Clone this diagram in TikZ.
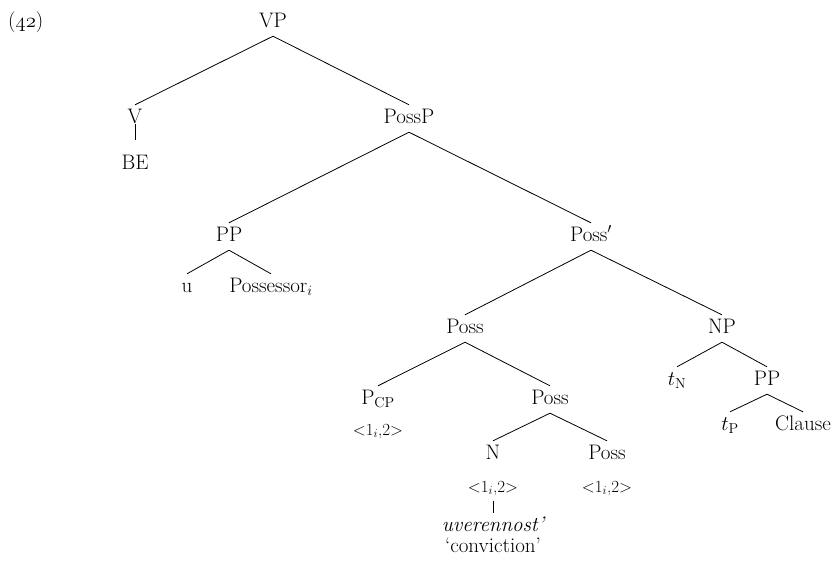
\documentclass[tikz,border=0pt]{standalone}
\begin{document}
\begin{tikzpicture}[x=1pt,y=-1pt,
  lab/.style={anchor=base, inner xsep=2pt, inner ysep=4pt,
    text height=14pt, text depth=5pt, font=\fontsize{21}{25}\selectfont},
  feat/.style={lab, font=\fontsize{17}{20}\selectfont},
  branch/.style={line width=0.8pt}]
\useasboundingbox (0,0) rectangle (837,563);

% example number
\node[lab, anchor=base west, inner xsep=0pt] (num) at (8,27)
  {({\usefont{OML}{cmm}{m}{it}42})};

% tree labels (placed on their baselines)
\node[lab] (VP)     at (273,27)  {VP};
\node[lab] (V)      at (135,123) {V};
\node[lab] (BE)     at (135,169) {BE};
\node[lab] (PossP)  at (409,123) {PossP};
\node[lab] (PP)     at (229,241) {PP};
\node[lab] (u)      at (187,292) {u};
\node[lab] (Psr)    at (271,292) {Possessor$_i$};
\node[lab] (Possb)  at (591,241) {Poss$'$};
\node[lab] (Poss)   at (465,333) {Poss};
\node[lab] (NP)     at (722,333) {NP};
\node[lab] (PCP)    at (378,404) {P$_{\mathrm{CP}}$};
\node[feat] (PCPf)  at (378,435) {<1$_i$,2>};
\node[lab] (PossB)  at (550,404) {Poss};
\node[lab] (N)      at (493,459) {N};
\node[feat] (Nf)    at (493,492) {<1$_i$,2>};
\node[lab] (PossC)  at (607,459) {Poss};
\node[feat] (PossCf) at (607,492) {<1$_i$,2>};
\node[lab, text depth=1pt] (uver) at (493,531) {\itshape uverennost’};
\node[lab, inner ysep=0pt, text height=11pt] (conv) at (493,552) {‘conviction’};
\node[lab] (tN)     at (677,385) {$t_{\mathrm{N}}$};
\node[lab] (PPb)    at (767,385) {PP};
\node[lab] (tP)     at (730,430) {$t_{\mathrm{P}}$};
\node[lab] (Cl)     at (803,430) {Clause};

% branches
\draw[branch] (VP.south) -- (V.north);
\draw[branch] (VP.south) -- (PossP.north);
\draw[branch] ([yshift=-1pt]V.base) -- ([yshift=29pt]BE.base);
\draw[branch] (PossP.south) -- (PP.north);
\draw[branch] (PossP.south) -- (Possb.north);
\draw[branch] (PP.south) -- (u.north);
\draw[branch] (PP.south) -- (Psr.north);
\draw[branch] (Possb.south) -- (Poss.north);
\draw[branch] (Possb.south) -- (NP.north);
\draw[branch] (Poss.south) -- (PCP.north);
\draw[branch] (Poss.south) -- (PossB.north);
\draw[branch] (PossB.south) -- (N.north);
\draw[branch] (PossB.south) -- (PossC.north);
\draw[branch] (Nf.south) -- (uver.north);
\draw[branch] (NP.south) -- (tN.north);
\draw[branch] (NP.south) -- (PPb.north);
\draw[branch] (PPb.south) -- (tP.north);
\draw[branch] (PPb.south) -- (Cl.north);
\end{tikzpicture}
\end{document}
